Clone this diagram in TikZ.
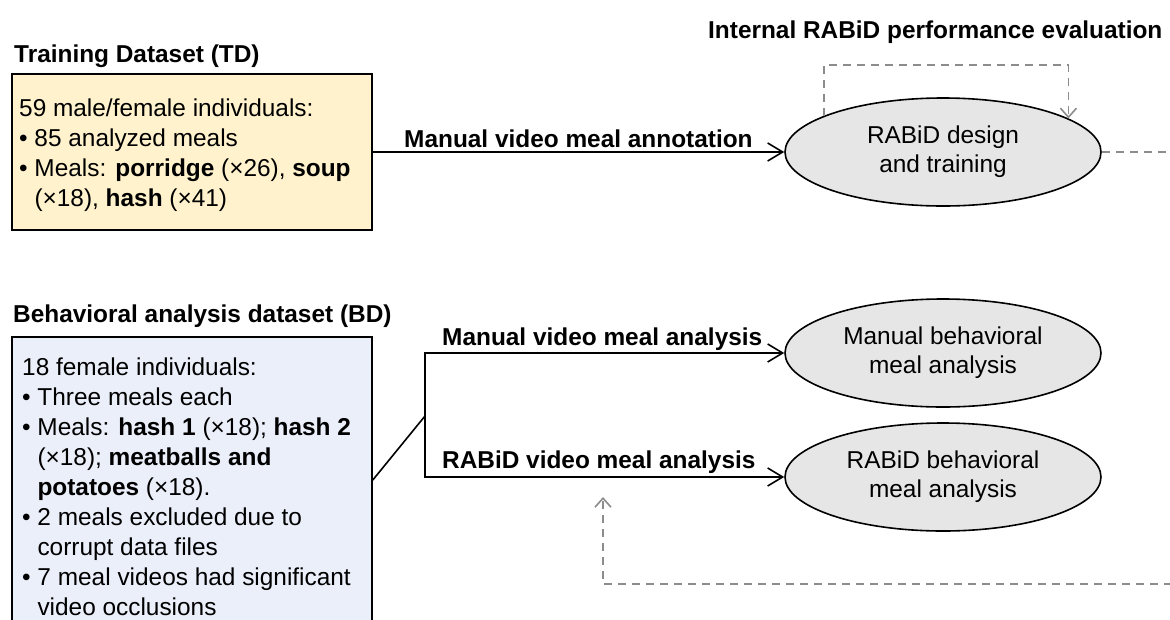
\documentclass[tikz,border=0pt]{standalone}
\usepackage{fontspec}
\setmainfont{Liberation Sans}
\usetikzlibrary{shapes.geometric,arrows.meta}
\definecolor{tdfill}{HTML}{FFF2CC}
\definecolor{bdfill}{HTML}{EBEFF9}
\definecolor{elfill}{HTML}{E6E6E6}
\definecolor{dashgray}{HTML}{8C8C8C}
\newcommand{\bodyfont}{\fontsize{24.4}{30}\selectfont}
\newcommand{\elfont}{\fontsize{24.4}{29}\selectfont}
\begin{document}
\begin{tikzpicture}[x=1pt,y=-1pt,
  databox/.style={draw, line width=1.6pt, minimum width=360pt, inner sep=0pt},
  ell/.style={ellipse, draw, line width=1.6pt, fill=elfill, minimum width=316pt, minimum height=108pt, inner sep=0pt, align=center, font=\elfont},
  conn/.style={line width=1.6pt, -{Straight Barb[length=15pt,width=18pt]}},
  fb/.style={draw=dashgray, line width=1.6pt, dash pattern=on 8pt off 6pt, -{Straight Barb[length=9pt,width=16pt]}},
  heading/.style={anchor=base west, inner sep=0pt, font=\bodyfont\bfseries},
  body/.style={anchor=base west, inner sep=0pt, font=\bodyfont}]
\clip (0,0) rectangle (1170,619);
\fill[white] (0,0) rectangle (1170,619);

% headings
\node[heading] (tdtitle) at (14,62) {Training Dataset (TD)};
\node[heading] (bdtitle) at (13,322) {Behavioral analysis dataset (BD)};
\node[heading] (evtitle) at (708,38) {Internal RABiD performance evaluation};

% boxes
\node[databox, fill=tdfill, minimum height=156pt] (td) at (192,152) {};
\node[databox, fill=bdfill, minimum height=286pt] (bd) at (192,480) {};

\node[body] (tdtext) at (19,116) {\parbox[t]{350pt}{\raggedright\bodyfont
59 male/female individuals:\\
• 85 analyzed meals\\
• Meals: \textbf{porridge} (×26), \textbf{soup}\\
\hphantom{•\ }(×18), \textbf{hash} (×41)}};

\node[body] (bdtext) at (22,375) {\parbox[t]{350pt}{\raggedright\bodyfont
18 female individuals:\\
• Three meals each\\
• Meals: \textbf{hash 1} (×18); \textbf{hash 2}\\
\hphantom{•\ }(×18); \textbf{meatballs and}\\
\hphantom{•\ }\textbf{potatoes} (×18).\\
• 2 meals excluded due to\\
\hphantom{•\ }corrupt data files\\
• 7 meal videos had significant\\
\hphantom{•\ }video occlusions}};

% ellipses
\node[ell] (rd) at (943,152) {RABiD design\\and training};
\node[ell] (mb) at (943,353) {Manual behavioral\\meal analysis};
\node[ell] (rb) at (943,477) {RABiD behavioral\\meal analysis};

% connectors
\draw[conn] (td.east) -- (rd.west);
\node[heading] (lab1) at (404,147) {Manual video meal annotation};

\coordinate (split) at (425,416);
\draw[line width=1.6pt] (bd.east) -- (split);
\draw[conn] (split) |- (mb.west);
\draw[conn] (split) |- (rb.west);
\node[heading] (lab2) at (442,345) {Manual video meal analysis};
\node[heading] (lab3) at (442,468) {RABiD video meal analysis};

% dashed feedback
\coordinate (looptop) at (943,65);
\draw[fb] (rd.163.4) |- (looptop) -| (rd.15.7);
\coordinate (rdout) at (1172,152);
\draw[fb, -] (rd.east) -- (rdout);
\coordinate (fbout) at (1172,584);
\coordinate (fbin) at (603,497);
\draw[fb] (fbout) -| (fbin);
\end{tikzpicture}
\end{document}
